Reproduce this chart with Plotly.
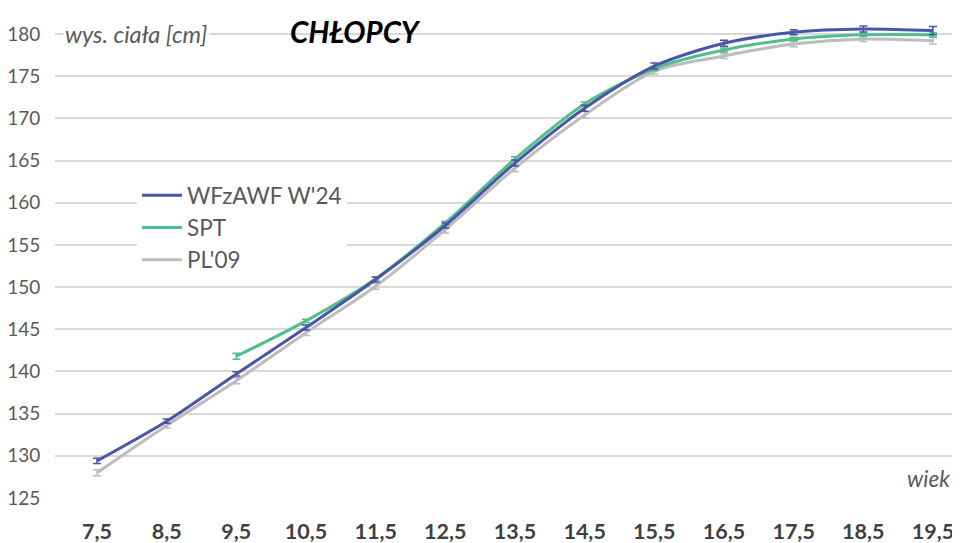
import plotly.graph_objects as go

ages = [7.5, 8.5, 9.5, 10.5, 11.5, 12.5, 13.5, 14.5, 15.5, 16.5, 17.5, 18.5, 19.5]
age_labels = ["7,5", "8,5", "9,5", "10,5", "11,5", "12,5", "13,5", "14,5", "15,5", "16,5", "17,5", "18,5", "19,5"]

wfzawf = [129.4, 134.1, 139.7, 145.2, 150.9, 157.3, 164.7, 171.2, 176.2, 178.9, 180.2, 180.6, 180.4]
wfzawf_err = [0.3, 0.25, 0.25, 0.3, 0.3, 0.3, 0.35, 0.35, 0.35, 0.35, 0.3, 0.35, 0.5]

spt_ages = [9.5, 10.5, 11.5, 12.5, 13.5, 14.5, 15.5, 16.5, 17.5, 18.5, 19.5]
spt = [141.8, 146.0, 151.0, 157.6, 165.2, 171.7, 175.9, 178.1, 179.4, 179.9, 179.9]
spt_err = [0.35, 0.2, 0.2, 0.2, 0.25, 0.25, 0.25, 0.25, 0.2, 0.2, 0.25]

pl09 = [128.0, 133.6, 138.9, 144.6, 150.1, 156.8, 164.1, 170.4, 175.6, 177.4, 178.8, 179.4, 179.2]
pl09_err = [0.35, 0.3, 0.35, 0.35, 0.35, 0.4, 0.4, 0.4, 0.35, 0.3, 0.3, 0.3, 0.4]

y_ticks = list(range(125, 181, 5))

BLUE = "#4a55a6"
GREEN = "#50bf8c"
GRAY = "#bdbdbd"
FONT = "Lato"

# the page body has an 8px margin; the figure is sized to fill the rest of the window
W, H = 952, 535
ML, MB = 47, 45
PW = W - ML

fig = go.Figure()

def add(name, x, y, err, color):
    fig.add_trace(go.Scatter(
        x=x, y=y, name=name, mode="lines",
        line=dict(color=color, width=3, shape="spline", smoothing=0.8),
        error_y=dict(type="data", array=err, visible=True, color=color, thickness=1.5, width=4),
    ))

add("PL'09", ages, pl09, pl09_err, GRAY)
add("SPT", spt_ages, spt, spt_err, GREEN)
add("WFzAWF W'24", ages, wfzawf, wfzawf_err, BLUE)

def px(xpage):
    return (xpage - 8 - ML) / PW

fig.update_layout(
    width=W, height=H,
    margin=dict(l=ML, r=0, t=0, b=MB),
    plot_bgcolor="white", paper_bgcolor="white",
    font=dict(family=FONT, color="#595959"),
    showlegend=True,
    legend=dict(
        x=px(137), y=1 - (174 - 8) / (H - MB), xanchor="left", yanchor="top",
        bgcolor="white", font=dict(size=22.5, color="#595959", family=FONT),
        traceorder="reversed", itemwidth=40,
        borderwidth=0,
    ),
    xaxis=dict(
        range=[6.897, 19.888], tickvals=ages, ticktext=age_labels,
        showgrid=False, zeroline=False, showline=False,
        ticks="outside", ticklen=14, tickcolor="rgba(0,0,0,0)",
        tickfont=dict(size=21.5, color="#404040", family=FONT, weight="bold"),
    ),
    yaxis=dict(
        range=[125, 183.08], tickvals=y_ticks,
        showgrid=True, gridcolor="#d9d9d9", gridwidth=1.5,
        zeroline=False, showline=False,
        ticks="outside", ticklen=10, tickcolor="rgba(0,0,0,0)",
        tickfont=dict(size=19, color="#595959", family=FONT),
    ),
    annotations=[
        dict(text="<i>wys. ciała [cm]</i>", x=px(63), y=180, xref="paper", yref="y",
             showarrow=False, xanchor="left", yanchor="middle",
             font=dict(size=23.5, color="#595959", family=FONT), bgcolor="white"),
        dict(text="<b><i>CHŁOPCY</i></b>", x=px(288), y=180.3, xref="paper", yref="y",
             showarrow=False, xanchor="left", yanchor="middle",
             font=dict(size=29.5, color="black", family=FONT)),
        dict(text="<i>wiek</i>", x=px(952), y=127.3, xref="paper", yref="y",
             showarrow=False, xanchor="right", yanchor="middle",
             font=dict(size=22.5, color="#595959", family=FONT)),
    ],
)

fig.write_html("out.html")
